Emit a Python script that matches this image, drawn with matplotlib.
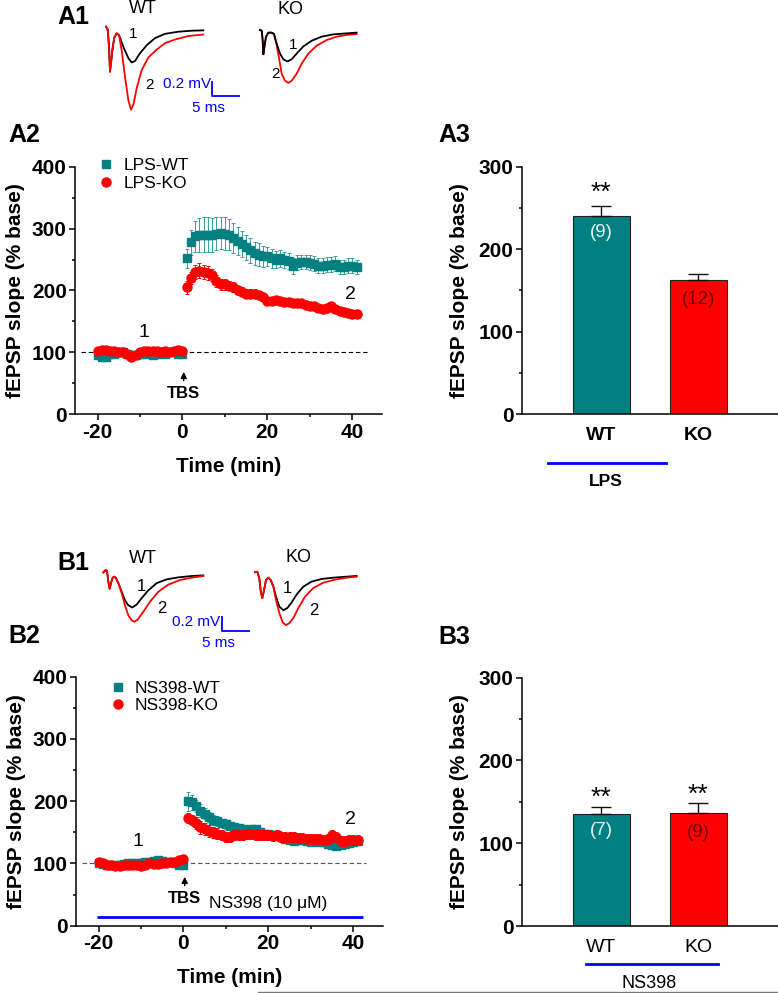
import matplotlib
matplotlib.use('Agg')
import matplotlib.pyplot as plt
from matplotlib.lines import Line2D

plt.rcParams['font.family'] = ['Liberation Sans', 'DejaVu Sans']
plt.rcParams['axes.unicode_minus'] = False

W, H = 778, 993
TEAL = '#008080'
TEAL_ERR = '#3a9e9e'
RED = '#ff0000'
BLUE = '#0000ff'

# ---- time course data (min, % base) ----
t_base = list(range(-20, 1))
t_post = list(range(1, 42))

lps_wt_base = [95, 92, 93, 97, 98, 100, 100, 98, 96, 95, 97, 98, 100, 96, 98, 101, 97, 100, 100, 98, 97]
lps_ko_base = [103, 104, 104, 103, 102, 101, 100, 98, 92, 96, 100, 102, 103, 102, 102, 101, 102, 100, 103, 104, 102]
lps_wt_post = [252, 278, 288, 290, 290, 290, 290, 292, 293, 292, 290, 285, 280, 275, 270, 265, 260, 258,
               255, 255, 252, 250, 252, 250, 248, 240, 245, 246, 246, 245, 243, 240, 240, 242, 242, 243,
               238, 238, 240, 240, 238]
lps_ko_post = [205, 220, 230, 232, 230, 228, 225, 215, 210, 210, 208, 205, 200, 198, 195, 195, 195, 192,
               190, 183, 183, 184, 183, 182, 181, 180, 180, 180, 177, 175, 175, 172, 170, 172, 175, 170,
               167, 165, 163, 162, 162]
lps_wt_err = [15, 20, 25, 27, 28, 28, 27, 27, 26, 26, 25, 24, 22, 21, 20, 20, 19, 18, 17, 16, 15, 14,
              14, 13, 13, 13, 12, 12, 12, 12, 12, 12, 12, 12, 12, 12, 12, 12, 12, 12, 12]
lps_ko_err = [10, 10, 12, 12, 12, 11, 10, 10, 9, 9, 8, 8, 8, 7, 7, 7, 7, 6, 6, 6, 6, 6, 6, 5, 5, 5, 5,
              5, 5, 5, 5, 5, 5, 5, 5, 5, 5, 4, 4, 4, 4]

ns_wt_base = [100, 99, 98, 97, 97, 98, 99, 100, 100, 101, 101, 102, 103, 104, 106, 104, 103, 102, 100, 98, 97]
ns_ko_base = [103, 101, 98, 97, 96, 96, 97, 98, 98, 97, 96, 98, 100, 99, 99, 101, 100, 102, 103, 106, 107]
ns_wt_post = [200, 198, 192, 185, 180, 175, 170, 168, 165, 163, 160, 158, 157, 155, 152, 155, 155, 150,
              148, 147, 146, 145, 143, 140, 138, 136, 137, 137, 136, 135, 136, 135, 134, 131, 130, 128,
              130, 132, 133, 135, 136]
ns_ko_post = [173, 170, 165, 158, 155, 152, 150, 148, 145, 143, 143, 145, 146, 145, 148, 147, 146, 146,
              146, 145, 144, 145, 143, 142, 143, 142, 141, 141, 140, 140, 139, 139, 138, 140, 145, 142,
              136, 136, 137, 138, 138]
ns_wt_err = [15, 12, 10, 10, 9, 8, 8, 8, 7, 7, 7, 7, 7, 7, 6, 6, 6, 6, 6, 6, 6, 6, 6, 6, 6, 6, 6, 6,
             6, 6, 6, 6, 6, 6, 6, 6, 6, 6, 6, 6, 6]
ns_ko_err = [8, 8, 9, 10, 10, 10, 9, 9, 8, 8, 8, 8, 8, 8, 8, 8, 8, 8, 8, 8, 8, 8, 8, 8, 8, 8, 8, 8, 8,
             8, 8, 8, 8, 8, 8, 8, 8, 8, 8, 8, 8]
base_err = 3

# ---- bar data ----
groups = ['WT', 'KO']
lps_mean = [240.5, 163]
lps_sem = [11.5, 7]
lps_n = ['(9)', '(12)']
ns_mean = [135, 137]
ns_sem = [8.6, 11.4]
ns_n = ['(7)', '(9)']

# ---- example traces (ms, mV) ----
a1wt_ms_k = [0, 0.31, 0.56, 0.74, 0.93, 1.17, 1.54, 1.98, 2.41, 3.21, 4.14, 4.75, 5.37, 6.30, 7.53, 9.07,
             10.93, 13.40, 15.86, 18.02]
a1wt_mv_k = [0, -0.037, -0.28, -0.63, -0.51, -0.33, -0.15, -0.093, -0.117, -0.28, -0.44, -0.50, -0.48,
             -0.37, -0.26, -0.16, -0.10, -0.07, -0.056, -0.051]
a1wt_ms_r = [0, 0.31, 0.56, 0.74, 0.93, 1.17, 1.54, 1.98, 2.41, 2.90, 3.52, 4.14, 4.63, 5.12, 5.68, 6.60,
             7.84, 9.38, 10.93, 12.78, 15.25, 18.02]
a1wt_mv_r = [0, -0.037, -0.28, -0.63, -0.51, -0.33, -0.15, -0.093, -0.12, -0.33, -0.70, -1.03, -1.16,
             -1.08, -0.86, -0.61, -0.43, -0.32, -0.23, -0.18, -0.13, -0.11]

a1ko_ms_c = [0, 0.31, 0.49, 0.62, 0.86, 1.11, 1.54, 2.16, 2.59]
a1ko_mv_c = [0, -0.009, -0.14, -0.34, -0.21, -0.093, -0.037, -0.037, -0.056]
a1ko_ms_k = [3.09, 3.70, 4.32, 5.06, 5.86, 6.79, 8.02, 9.57, 11.42, 13.58, 16.05, 17.90]
a1ko_mv_k = [-0.19, -0.33, -0.41, -0.44, -0.41, -0.33, -0.23, -0.15, -0.093, -0.061, -0.047, -0.037]
a1ko_ms_r = [3.09, 3.58, 4.01, 4.63, 5.25, 5.86, 6.79, 7.72, 8.95, 10.49, 12.35, 14.20, 16.05, 17.90]
a1ko_mv_r = [-0.21, -0.42, -0.61, -0.71, -0.74, -0.71, -0.61, -0.47, -0.33, -0.22, -0.14, -0.093,
             -0.070, -0.056]

b1wt_ms_c = [-0.31, 0.12, 0.37, 0.62, 0.86, 1.11, 1.42, 1.73, 2.04, 2.47]
b1wt_mv_c = [-0.02, 0.014, 0, -0.15, -0.25, -0.17, -0.093, -0.079, -0.10, -0.17]
b1wt_ms_k = [3.09, 3.70, 4.32, 5.06, 5.86, 6.79, 8.02, 9.57, 11.42, 13.58, 16.05, 18.21]
b1wt_mv_k = [-0.29, -0.41, -0.48, -0.51, -0.47, -0.38, -0.27, -0.17, -0.117, -0.089, -0.07, -0.061]
b1wt_ms_r = [3.09, 3.70, 4.32, 4.94, 5.43, 6.05, 7.10, 8.33, 9.88, 11.73, 13.89, 16.05, 18.21]
b1wt_mv_r = [-0.31, -0.48, -0.62, -0.69, -0.71, -0.68, -0.57, -0.43, -0.29, -0.19, -0.126, -0.093, -0.07]

b1ko_ms_c = [0, 0.43, 0.80, 1.11, 1.36, 1.67, 2.04, 2.47, 2.90, 3.40]
b1ko_mv_c = [0, 0.009, -0.084, -0.29, -0.36, -0.25, -0.107, -0.075, -0.107, -0.20]
b1ko_ms_k = [3.89, 4.51, 5.25, 5.99, 6.79, 7.72, 8.95, 10.49, 12.35, 14.51, 16.98, 18.83]
b1ko_mv_k = [-0.34, -0.48, -0.53, -0.50, -0.42, -0.31, -0.20, -0.13, -0.093, -0.075, -0.061, -0.051]
b1ko_ms_r = [3.89, 4.51, 5.12, 5.74, 6.36, 7.10, 8.02, 9.26, 10.80, 12.65, 14.81, 16.98, 18.83]
b1ko_mv_r = [-0.39, -0.57, -0.70, -0.74, -0.71, -0.64, -0.50, -0.34, -0.22, -0.145, -0.103, -0.075,
             -0.061]

PX_MS = 5.4    # pixels per ms in the trace insets
PX_MV = 71.5   # pixels per mV


def px_axes(fig, left, top, width, height):
    return fig.add_axes([left / W, 1 - (top + height) / H, width / W, height / H])


def trace_axes(fig, x0, y0):
    ax = px_axes(fig, x0 - 15, y0 - 30, 165, 125)
    ax.set_xlim(-15 / PX_MS, 150 / PX_MS)
    ax.set_ylim(-95 / PX_MV, 30 / PX_MV)
    ax.axis('off')
    return ax


def scale_bar(ax, x, y, dx_txt, dy_txt):
    ax.plot([x, x, x + 5], [y + 0.2, y, y], color=BLUE, lw=1.3, clip_on=False)
    ax.text(x - 0.3, y + 0.1 + dy_txt, '0.2 mV', color=BLUE, fontsize=11, ha='right', va='center')
    ax.text(x - 0.7 + dx_txt, y - 0.17, '5 ms', color=BLUE, fontsize=11, ha='center', va='center')


def style_ts(ax):
    ax.set_xlim(-25.3, 47)
    ax.set_ylim(0, 400)
    ax.set_xticks([-20, 0, 20, 40])
    ax.set_xticks([-10, 10, 30], minor=True)
    ax.set_yticks([0, 100, 200, 300, 400])
    ax.set_yticks([50, 150, 250, 350], minor=True)
    for s in ['top', 'right']:
        ax.spines[s].set_visible(False)
    for s in ['left', 'bottom']:
        ax.spines[s].set_linewidth(1.1)
    ax.tick_params(which='major', direction='out', length=4, width=1.1, labelsize=15, pad=2)
    ax.tick_params(which='minor', direction='out', length=2.5, width=1.1)
    for lbl in ax.get_xticklabels() + ax.get_yticklabels():
        lbl.set_fontweight('bold')
    ax.set_ylabel('fEPSP slope (% base)', fontsize=15, fontweight='bold', labelpad=5)
    ax.set_xlabel('Time (min)', fontsize=15, fontweight='bold', labelpad=11)


def plot_ts(ax, wt_b, ko_b, wt_p, ko_p, wt_e, ko_e):
    ax.errorbar(t_base, wt_b, yerr=base_err, fmt='s', color=TEAL, ms=5.5, ecolor=TEAL_ERR,
                elinewidth=0.7, capsize=1.5, capthick=0.7, zorder=3)
    ax.errorbar(t_post, wt_p, yerr=wt_e, fmt='s', color=TEAL, ms=5.5, ecolor=TEAL_ERR,
                elinewidth=0.7, capsize=1.5, capthick=0.7, zorder=3)
    ax.errorbar(t_base, ko_b, yerr=base_err, fmt='o', color=RED, ms=6.5, ecolor=RED,
                elinewidth=0.7, capsize=1.5, capthick=0.7, zorder=4)
    ax.errorbar(t_post, ko_p, yerr=ko_e, fmt='o', color=RED, ms=6.5, ecolor=RED,
                elinewidth=0.7, capsize=1.5, capthick=0.7, zorder=4)


def style_bar(ax, bold):
    ax.set_xlim(-0.82, 1.82)
    ax.set_ylim(0, 300)
    ax.set_yticks([0, 100, 200, 300])
    ax.set_yticks([50, 150, 250], minor=True)
    ax.set_xticks([0, 1])
    ax.set_xticklabels(groups, fontsize=14, fontweight='bold' if bold else 'normal')
    for s in ['top', 'right']:
        ax.spines[s].set_visible(False)
    for s in ['left', 'bottom']:
        ax.spines[s].set_linewidth(1.1)
    ax.tick_params(axis='y', which='major', direction='out', length=4, width=1.1, labelsize=15, pad=2)
    ax.tick_params(axis='y', which='minor', direction='out', length=2.5, width=1.1)
    ax.tick_params(axis='x', length=0, pad=9)
    for lbl in ax.get_yticklabels():
        lbl.set_fontweight('bold')
    ax.set_ylabel('fEPSP slope (% base)', fontsize=15, fontweight='bold', labelpad=7)


def plot_bars(ax, means, sems, ns, stars):
    ax.bar([0, 1], means, width=0.59, color=[TEAL, RED], edgecolor='#222222', linewidth=0.8,
           yerr=[[0, 0], sems], error_kw=dict(ecolor='#111111', elinewidth=1, capsize=7, capthick=1))
    ax.text(0, means[0] - 20, ns[0], color='#dff5f5', fontsize=13.5, ha='center', va='center')
    ax.text(1, means[1] - 24, ns[1], color='#6e0000', fontsize=13.5, ha='center', va='center')
    for i, y in stars:
        ax.text(i, y - 6, '**', fontsize=19, ha='center', va='center')


fig = plt.figure(figsize=(W / 100, H / 100), dpi=100)

# A2
ax = px_axes(fig, 75, 166.7, 307, 247.6)
plot_ts(ax, lps_wt_base, lps_ko_base, lps_wt_post, lps_ko_post, lps_wt_err, lps_ko_err)
ax.hlines(100, -24, 43.5, colors='black', linestyles=(0, (4, 2.5)), lw=0.8, zorder=2)
style_ts(ax)
ax.text(-9, 132, '1', fontsize=14, ha='center', va='center')
ax.text(39.5, 193, '2', fontsize=14, ha='center', va='center')
ax.annotate('', xy=(0.3, 73), xytext=(0.3, 50),
            arrowprops=dict(arrowstyle='-|>', color='black', lw=1, mutation_scale=9))
ax.text(0.3, 34, 'TBS', fontsize=12, fontweight='bold', ha='center', va='center')
handles = [Line2D([], [], marker='s', ls='', color=TEAL, ms=5.5),
           Line2D([], [], marker='o', ls='', color=RED, ms=6.5)]
ax.legend(handles, ['LPS-WT', 'LPS-KO'], loc='upper left', bbox_to_anchor=(0.078, 1.035),
          frameon=False, fontsize=12.5, handlelength=0.8, handletextpad=0.6, labelspacing=0.15,
          borderpad=0, borderaxespad=0)

# B2
ax = px_axes(fig, 76, 676.7, 307, 249)
plot_ts(ax, ns_wt_base, ns_ko_base, ns_wt_post, ns_ko_post, ns_wt_err, ns_ko_err)
ax.hlines(100, -24, 43, colors='#555555', linestyles=(0, (4, 2.5)), lw=0.8, zorder=2)
style_ts(ax)
ax.text(-10.6, 135, '1', fontsize=14, ha='center', va='center')
ax.text(39.4, 170, '2', fontsize=14, ha='center', va='center')
ax.annotate('', xy=(0.3, 83), xytext=(0.3, 60),
            arrowprops=dict(arrowstyle='-|>', color='black', lw=1, mutation_scale=9))
ax.text(0.3, 44, 'TBS', fontsize=12, fontweight='bold', ha='center', va='center')
ax.text(20, 36, 'NS398 (10 \u03bcM)', fontsize=12.5, ha='center', va='center')
ax.hlines(14.5, -20.3, 42.4, colors=BLUE, lw=2)
handles = [Line2D([], [], marker='s', ls='', color=TEAL, ms=5.5),
           Line2D([], [], marker='o', ls='', color=RED, ms=6.5)]
ax.legend(handles, ['NS398-WT', 'NS398-KO'], loc='upper left', bbox_to_anchor=(0.113, 0.985),
          frameon=False, fontsize=12.5, handlelength=0.8, handletextpad=0.6, labelspacing=0.15,
          borderpad=0, borderaxespad=0)

# A3
ax = px_axes(fig, 521.7, 166.7, 256.3, 247.3)
plot_bars(ax, lps_mean, lps_sem, lps_n, [(0, 274)])
style_bar(ax, True)

# B3
ax = px_axes(fig, 521.7, 677.7, 256.3, 248.3)
plot_bars(ax, ns_mean, ns_sem, ns_n, [(0, 160.5), (1, 165)])
style_bar(ax, False)

# example traces
ax = trace_axes(fig, 106, 26.7)
ax.plot(a1wt_ms_k, a1wt_mv_k, color='black', lw=1.3)
ax.plot(a1wt_ms_r, a1wt_mv_r, color=RED, lw=1.3)
ax.text(6.85, 0.26, 'WT', fontsize=13, ha='center', va='center')
ax.text(4.94, -0.10, '1', fontsize=11, ha='center', va='center')
ax.text(8.0, -0.82, '2', fontsize=11, ha='center', va='center')
scale_bar(ax, 19.7, -0.97, 0, 0.07)

ax = trace_axes(fig, 260, 30)
ax.plot(a1ko_ms_c + a1ko_ms_r, a1ko_mv_c + a1ko_mv_r, color=RED, lw=1.3)
ax.plot(a1ko_ms_c + a1ko_ms_k, a1ko_mv_c + a1ko_mv_k, color='black', lw=1.3)
ax.text(5.56, 0.28, 'KO', fontsize=13, ha='center', va='center')
ax.text(6.17, -0.21, '1', fontsize=11, ha='center', va='center')
ax.text(2.78, -0.61, '2', fontsize=11, ha='center', va='center')

ax = trace_axes(fig, 105, 571)
ax.plot(b1wt_ms_c + b1wt_ms_k, b1wt_mv_c + b1wt_mv_k, color='black', lw=1.3)
ax.plot(b1wt_ms_c + b1wt_ms_r, b1wt_mv_c + b1wt_mv_r, color=RED, lw=1.3)
ax.text(7.1, 0.17, 'WT', fontsize=13, ha='center', va='center')
ax.text(6.67, -0.22, '1', fontsize=12, ha='center', va='center')
ax.text(10.49, -0.53, '2', fontsize=12, ha='center', va='center')
scale_bar(ax, 21.7, -0.84, 0, 0.02)

ax = trace_axes(fig, 255, 572.3)
ax.plot(b1ko_ms_c + b1ko_ms_k, b1ko_mv_c + b1ko_mv_k, color='black', lw=1.3)
ax.plot(b1ko_ms_c + b1ko_ms_r, b1ko_mv_c + b1ko_mv_r, color=RED, lw=1.3)
ax.text(8.0, 0.2, 'KO', fontsize=13, ha='center', va='center')
ax.text(6.05, -0.22, '1', fontsize=12, ha='center', va='center')
ax.text(10.8, -0.53, '2', fontsize=12, ha='center', va='center')

# overlay: panel letters and group bars
ov = fig.add_axes([0, 0, 1, 1])
ov.set_xlim(0, W)
ov.set_ylim(H, 0)
ov.axis('off')
for txt, x, y in [('A1', 57, 17), ('A2', 8, 135), ('A3', 438, 135),
                  ('B1', 57, 563), ('B2', 8, 636), ('B3', 438, 637)]:
    ov.text(x, y, txt, fontsize=18, fontweight='bold', ha='left', va='center')
ov.plot([548, 666], [463, 463], color=BLUE, lw=2)
ov.text(606, 481, 'LPS', fontsize=12.5, fontweight='bold', ha='center', va='center')
ov.plot([586, 718], [964, 964], color=BLUE, lw=2)
ov.text(649, 984, 'NS398', fontsize=13, ha='center', va='center')
ov.plot([258, 778], [991.5, 991.5], color='#777777', lw=1)

fig.savefig('out.png', dpi=100)
